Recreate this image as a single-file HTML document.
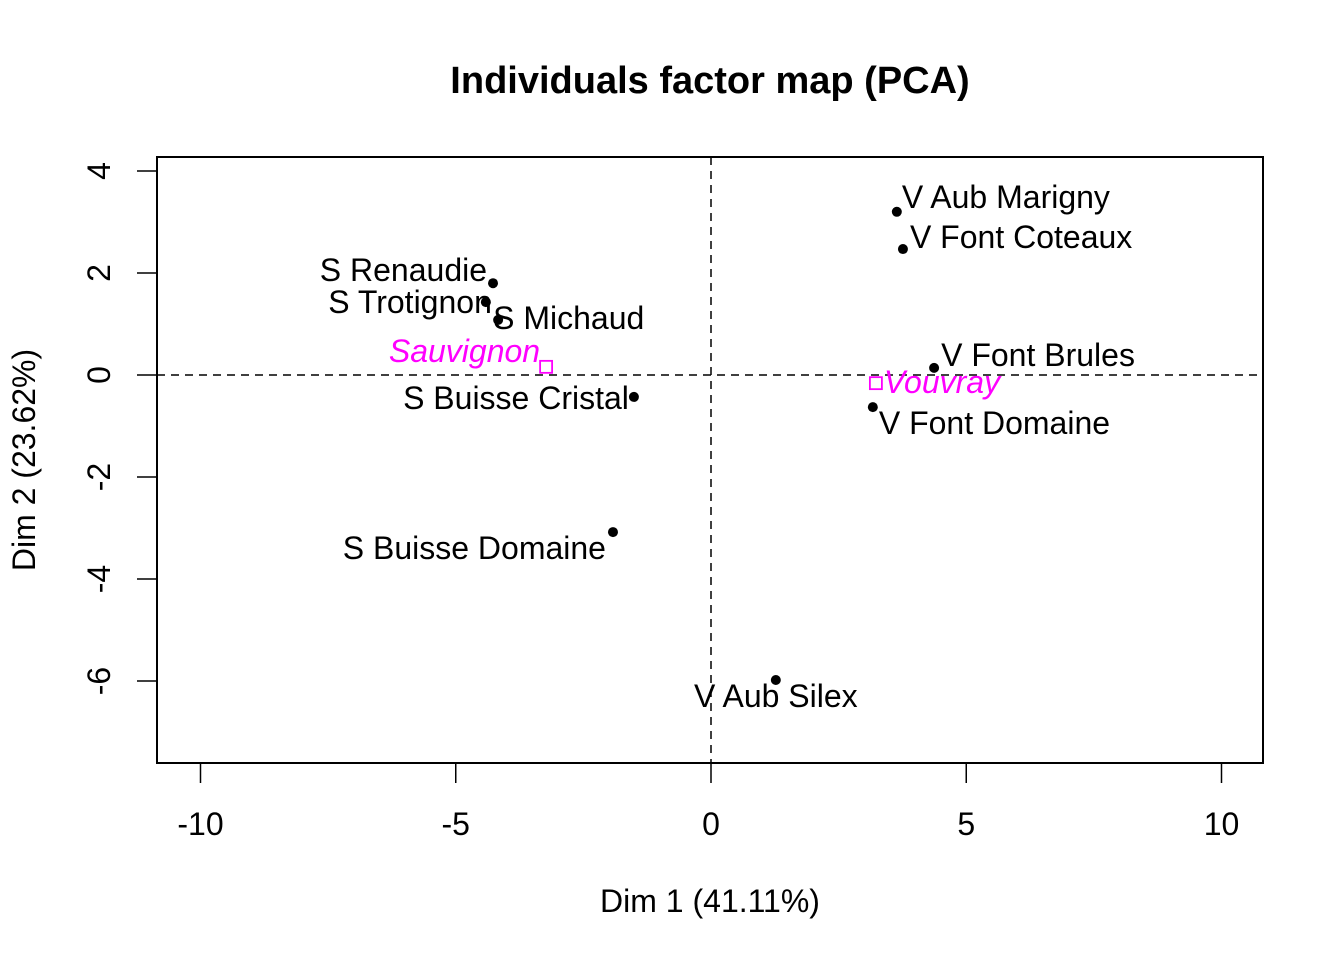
<!DOCTYPE html>
<html><head><meta charset="utf-8"><style>
html,body{margin:0;padding:0;background:#fff;}
svg{display:block;font-family:"Liberation Sans",Arial,sans-serif;}
</style></head><body>
<svg id="chart" width="1344" height="960" viewBox="0 0 1344 960" xmlns="http://www.w3.org/2000/svg">
<text x="710" y="93" text-anchor="middle" font-size="38" font-weight="bold">Individuals factor map (PCA)</text>
<rect x="157" y="157" width="1106" height="606" fill="none" stroke="#000" stroke-width="2"/>
<text x="710" y="912" text-anchor="middle" font-size="32">Dim 1 (41.11%)</text>
<text transform="translate(35,460) rotate(-90)" text-anchor="middle" font-size="32">Dim 2 (23.62%)</text>
<g id="layer"></g>
</svg>
<script>
const names=["V Aub Marigny","V Font Coteaux","S Renaudie","S Trotignon","S Michaud","S Buisse Cristal","V Font Brules","V Font Domaine","S Buisse Domaine","V Aub Silex"];
const dim1=[3.64,3.76,-4.27,-4.41,-4.17,-1.51,4.37,3.17,-1.92,1.27];
const dim2=[3.20,2.47,1.80,1.43,1.08,-0.43,0.14,-0.63,-3.08,-5.98];
const groupNames=["Sauvignon","Vouvray"];
const groupDim1=[-3.23,3.23];
const groupDim2=[0.16,-0.16];
const xTicks=[-10,-5,0,5,10];
const yTicks=[-6,-4,-2,0,2,4];

const NS="http://www.w3.org/2000/svg";
const X=v=>711+v*51.05;
const Y=v=>375-v*51;
const g=document.getElementById('layer');
function mk(t,a,txt){const e=document.createElementNS(NS,t);for(const k in a)e.setAttribute(k,a[k]);if(txt!==undefined)e.textContent=txt;g.appendChild(e);return e;}
const FS=32;
const off=[[5,-15,"start"],[7,-12,"start"],[-6,-13,"end"],[6,0,"end"],[-5,-2,"start"],[-5,1,"end"],[7,-13,"start"],[6,16,"start"],[-7,16,"end"],[0,16,"middle"]];
const goff=[[-6,-16,"end"],[8,-1,"start"]];

const hz=mk('line',{x1:157,x2:1263,y1:Y(0),y2:Y(0),stroke:'#000','stroke-width':1.5,'stroke-dasharray':'8,6'});


const vz=mk('line',{x1:X(0),x2:X(0),y1:157,y2:763,stroke:'#000','stroke-width':1.5,'stroke-dasharray':'8,6'});



mk('line',{x1:X(xTicks[0]),x2:X(xTicks[xTicks.length-1]),y1:763,y2:763,stroke:'#000','stroke-width':1.5});
xTicks.forEach(t=>{
 const l=mk('line',{x1:X(t),x2:X(t),y1:763,y2:783,stroke:'#000','stroke-width':1.5});
 
 
 const tx=mk('text',{x:X(t),y:835,'text-anchor':'middle','font-size':FS},String(t));
 
 
});
mk('line',{x1:157,x2:157,y1:Y(yTicks[0]),y2:Y(yTicks[yTicks.length-1]),stroke:'#000','stroke-width':1.5});
yTicks.forEach(t=>{
 const l=mk('line',{x1:137,x2:157,y1:Y(t),y2:Y(t),stroke:'#000','stroke-width':1.5});
 
 
 const tx=mk('text',{transform:`translate(110,${Y(t)}) rotate(-90)`,'text-anchor':'middle','font-size':FS},String(t));
 
 
});
names.forEach((n,i)=>{
 const c=mk('circle',{cx:X(dim1[i]),cy:Y(dim2[i]),r:5,fill:'#000'});
 
 
 const t=mk('text',{x:X(dim1[i])+off[i][0],y:Y(dim2[i])+off[i][1]+11,'text-anchor':off[i][2],'font-size':FS},n);
 
 
});
groupNames.forEach((n,i)=>{
 const r=mk('rect',{x:X(groupDim1[i])-6,y:Y(groupDim2[i])-6,width:12,height:12,fill:'none',stroke:'#ff00ff','stroke-width':1.8});
 
 
 const t=mk('text',{x:X(groupDim1[i])+goff[i][0],y:Y(groupDim2[i])+goff[i][1]+11,'text-anchor':goff[i][2],'font-size':FS,'font-style':'italic',fill:'#ff00ff'},n);
 
 
});
</script>
</body></html>
